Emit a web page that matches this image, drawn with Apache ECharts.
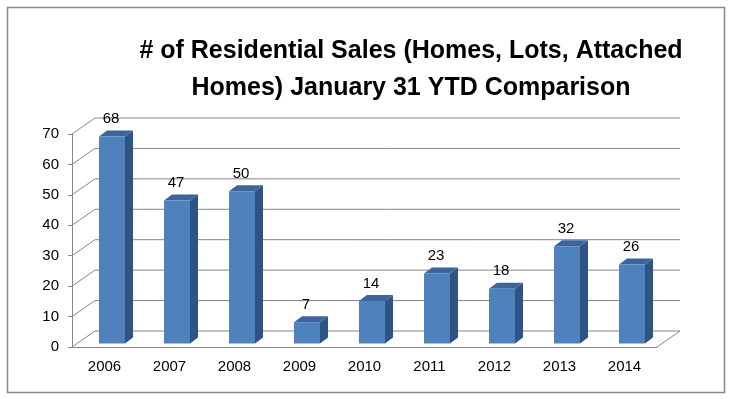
<!DOCTYPE html>
<html>
<head>
<meta charset="utf-8">
<script src="https://cdn.jsdelivr.net/npm/echarts@6/dist/echarts.min.js"></script>
<style>
  html, body { margin: 0; padding: 0; background: #fff; }
  #main { width: 732px; height: 399px; }
</style>
</head>
<body>
<div id="main"></div>
<script>
// data
var years = ["2006", "2007", "2008", "2009", "2010", "2011", "2012", "2013", "2014"];
var sales = [68, 47, 50, 7, 14, 23, 18, 32, 26];
var yTicks = [0, 10, 20, 30, 40, 50, 60, 70];

var chartDom = document.getElementById("main");
var myChart = echarts.init(chartDom);

// depth shift of the back wall, in pixels
var wallDx = 23, wallDy = -16;
var lineColor = "#868686";

// walls: left wall diagonals + back wall gridlines + floor
function renderWalls(params, api) {
  var cs = params.coordSys;
  var v = api.value(0);
  var y = api.coord([0, v])[1];
  var x0 = cs.x, x1 = cs.x + cs.width;
  var style = { stroke: lineColor, lineWidth: 1 };
  var children = [
    { type: "line", shape: { x1: x0, y1: y, x2: x0 + wallDx, y2: y + wallDy }, style: style },
    { type: "line", shape: { x1: x0 + wallDx, y1: y + wallDy, x2: x1 + wallDx, y2: y + wallDy }, style: style }
  ];
  if (v === 0) {
    children.push({ type: "line", shape: { x1: x1, y1: y, x2: x1 + wallDx, y2: y + wallDy }, style: style });
  }
  return { type: "group", children: children };
}

// 3d-looking bars
function renderBar(params, api) {
  var idx = api.value(0);
  var top = api.coord([idx, api.value(1)]);
  var base = api.coord([idx, 0]);
  var w = api.size([1, 0])[0] * 0.4;
  var ox = 7.5, oy = -3.5; // bar sits a bit into the floor
  var dx = 8, dy = -6;      // bar depth
  var xl = top[0] - w / 2 + ox, xr = top[0] + w / 2 + ox;
  var yt = top[1] + oy, yb = base[1] + oy;
  return {
    type: "group",
    children: [
      { type: "polygon", shape: { points: [[xr, yt], [xr + dx, yt + dy], [xr + dx, yb + dy], [xr, yb]] },
        style: { fill: "#2F5384" } },
      { type: "polygon", shape: { points: [[xl, yt], [xl + dx, yt + dy], [xr + dx, yt + dy], [xr, yt]] },
        style: { fill: "#3C659C" } },
      { type: "rect", shape: { x: xl, y: yt, width: xr - xl, height: yb - yt },
        style: { fill: "#4F81BD" } },
      { type: "text", x: (xl + xr) / 2 - 1, y: yt + dy - 4,
        style: { text: String(api.value(1)), fill: "#000", font: "15px 'Liberation Sans', Arial, sans-serif",
                 textAlign: "center", textVerticalAlign: "bottom" } }
    ]
  };
}

var option = {
  animation: false,
  title: {
    text: "# of Residential Sales (Homes, Lots, Attached\nHomes) January 31 YTD Comparison",
    left: 406,
    top: 28,
    textAlign: "center",
    textStyle: { fontFamily: "Liberation Sans", fontWeight: "bold", fontSize: 25, lineHeight: 37, color: "#000" }
  },
  graphic: [
    { type: "rect", shape: { x: 7.5, y: 7.5, width: 717, height: 385 },
      style: { fill: null, stroke: "#888", lineWidth: 1.5 }, silent: true, z: 100 }
  ],
  grid: { left: 72, right: 75, top: 134, bottom: 52 },
  xAxis: {
    type: "category",
    data: years,
    axisLine: { lineStyle: { color: lineColor } },
    axisTick: { length: 6, lineStyle: { color: lineColor } },
    axisLabel: { color: "#000", fontSize: 15, fontFamily: "Liberation Sans", margin: 12 }
  },
  yAxis: {
    type: "value",
    min: 0,
    max: 70,
    interval: 10,
    axisLine: { show: true, lineStyle: { color: lineColor } },
    axisTick: { show: true, length: 4, lineStyle: { color: lineColor } },
    splitLine: { show: false },
    axisLabel: { color: "#000", fontSize: 15, fontFamily: "Liberation Sans", margin: 13 }
  },
  series: [
    {
      type: "custom",
      renderItem: renderWalls,
      data: yTicks.map(function (v) { return [v]; }),
      encode: { y: 0 },
      silent: true,
      z: 1
    },
    {
      type: "custom",
      renderItem: renderBar,
      data: sales.map(function (v, i) { return [i, v]; }),
      encode: { x: 0, y: 1 },
      z: 3
    }
  ]
};

myChart.setOption(option);
window.onresize = function () {
  myChart.resize();
};
</script>
</body>
</html>
